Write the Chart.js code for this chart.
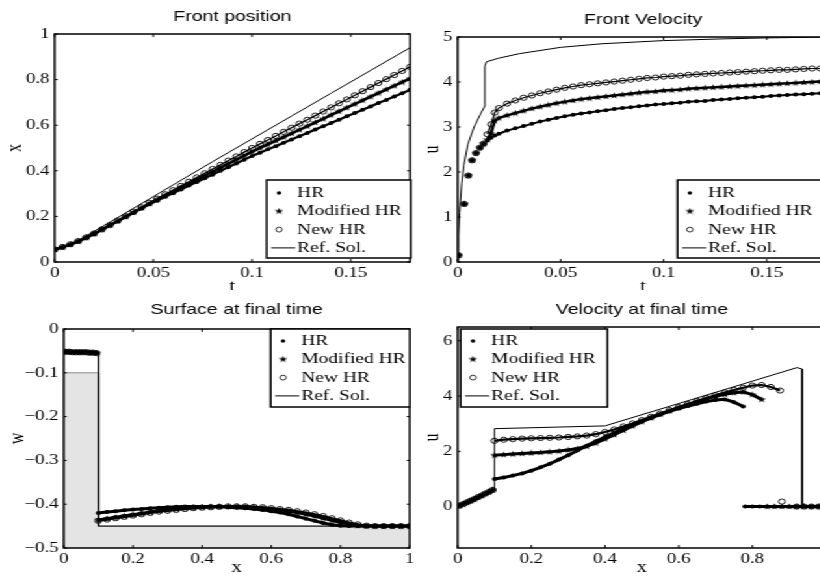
<!DOCTYPE html>
<html>
<head>
<meta charset="utf-8">
<title>Front position and velocity</title>
<script src="https://cdn.jsdelivr.net/npm/chart.js@4.4.1/dist/chart.umd.min.js"></script>
<style>
  html, body { margin: 0; padding: 0; background: #fff; width: 820px; height: 579px; overflow: hidden; }
  /* the figure is drawn narrow and stretched 1.3x horizontally, like the original */
  #fig { position: absolute; left: 0; top: 0; width: 631px; height: 579px; transform: scaleX(1.3); transform-origin: 0 0; }
  #top { position: absolute; left: 0; top: 0; width: 700px; height: 290px; overflow: hidden; }
  canvas { position: absolute; }
</style>
</head>
<body>
<div id="fig">
  <div id="top">
    <canvas id="c1"></canvas>
    <canvas id="c2"></canvas>
  </div>
  <canvas id="c3"></canvas>
  <canvas id="c4"></canvas>
</div>
<script>
// Front position (x vs t)
const t1 = [0, 0.004, 0.008, 0.012, 0.016, 0.02, 0.024, 0.028, 0.032, 0.036, 0.04, 0.044, 0.048, 0.052, 0.056, 0.06,
  0.064, 0.068, 0.072, 0.076, 0.08, 0.084, 0.088, 0.092, 0.096, 0.1, 0.104, 0.108, 0.112, 0.116, 0.12, 0.124, 0.128,
  0.132, 0.136, 0.14, 0.144, 0.148, 0.152, 0.156, 0.16, 0.164, 0.168, 0.172, 0.176, 0.18];
const hr1 = [0.055, 0.065, 0.077, 0.091, 0.107, 0.124, 0.142, 0.161, 0.179, 0.198, 0.216, 0.235, 0.253, 0.269, 0.286,
  0.302, 0.318, 0.335, 0.351, 0.367, 0.383, 0.400, 0.416, 0.432, 0.449, 0.465, 0.479, 0.494, 0.508, 0.523, 0.537, 0.552,
  0.566, 0.581, 0.595, 0.610, 0.624, 0.639, 0.653, 0.668, 0.682, 0.697, 0.711, 0.726, 0.740, 0.755];
const mod1 = [0.055, 0.065, 0.077, 0.091, 0.107, 0.124, 0.142, 0.161, 0.180, 0.199, 0.218, 0.237, 0.256, 0.274, 0.291,
  0.309, 0.326, 0.344, 0.361, 0.379, 0.396, 0.414, 0.431, 0.449, 0.466, 0.484, 0.500, 0.516, 0.532, 0.548, 0.564, 0.580,
  0.596, 0.612, 0.628, 0.645, 0.661, 0.677, 0.693, 0.709, 0.725, 0.741, 0.757, 0.773, 0.789, 0.805];
const new1 = [0.055, 0.066, 0.078, 0.092, 0.108, 0.125, 0.143, 0.162, 0.182, 0.201, 0.221, 0.240, 0.260, 0.278, 0.297,
  0.315, 0.334, 0.352, 0.371, 0.389, 0.408, 0.426, 0.445, 0.463, 0.482, 0.500, 0.518, 0.535, 0.553, 0.571, 0.589, 0.607,
  0.624, 0.642, 0.660, 0.678, 0.696, 0.713, 0.731, 0.749, 0.767, 0.785, 0.802, 0.820, 0.838, 0.856];
const refT1 = [0, 0.004, 0.008, 0.012, 0.014, 0.02, 0.03, 0.04, 0.06, 0.08, 0.1, 0.12, 0.14, 0.16, 0.18];
const refX1 = [0.055, 0.064, 0.078, 0.094, 0.104, 0.135, 0.185, 0.236, 0.338, 0.44, 0.54, 0.64, 0.74, 0.84, 0.94];

// Front velocity (u vs t)
const t2 = [0.0005, 0.0032, 0.0052, 0.007, 0.0089, 0.0108, 0.0126, 0.0144, 0.0162, 0.018,
  0.02, 0.024, 0.028, 0.032, 0.036, 0.04, 0.044, 0.048, 0.052, 0.056, 0.06, 0.064, 0.068, 0.072, 0.076, 0.08, 0.084,
  0.088, 0.092, 0.096, 0.1, 0.104, 0.108, 0.112, 0.116, 0.12, 0.124, 0.128, 0.132, 0.136, 0.14, 0.144, 0.148, 0.152,
  0.156, 0.16, 0.164, 0.168, 0.172, 0.176, 0.18];
const hr2 = [0.15, 1.29, 1.92, 2.26, 2.42, 2.54, 2.63, 2.70, 2.76, 2.81,
  2.85, 2.92, 2.97, 3.02, 3.07, 3.12, 3.16, 3.20, 3.24, 3.27, 3.30, 3.32, 3.35, 3.37, 3.40, 3.42, 3.44, 3.46, 3.48,
  3.50, 3.51, 3.53, 3.54, 3.56, 3.57, 3.58, 3.60, 3.61, 3.62, 3.64, 3.65, 3.66, 3.67, 3.69, 3.70, 3.71, 3.72, 3.73,
  3.74, 3.75, 3.76];
const mod2 = [0.15, 1.29, 1.92, 2.26, 2.42, 2.54, 2.63, 2.72, 2.86, 3.14,
  3.20, 3.26, 3.31, 3.36, 3.41, 3.45, 3.49, 3.53, 3.56, 3.59, 3.62, 3.64, 3.66, 3.68, 3.70, 3.72, 3.74, 3.76, 3.78,
  3.79, 3.81, 3.82, 3.83, 3.85, 3.86, 3.87, 3.88, 3.89, 3.90, 3.91, 3.92, 3.93, 3.94, 3.95, 3.96, 3.97, 3.98, 3.99,
  4.00, 4.01, 4.02];
const new2 = [0.15, 1.29, 1.92, 2.26, 2.42, 2.54, 2.63, 2.84, 3.06, 3.32,
  3.42, 3.52, 3.59, 3.65, 3.70, 3.75, 3.79, 3.83, 3.87, 3.90, 3.93, 3.95, 3.97, 3.99, 4.01, 4.03, 4.05, 4.07, 4.09,
  4.10, 4.12, 4.13, 4.14, 4.16, 4.17, 4.18, 4.19, 4.20, 4.21, 4.22, 4.23, 4.24, 4.25, 4.26, 4.27, 4.27, 4.28, 4.29,
  4.30, 4.30, 4.31];
const refT2 = [0, 0.0005, 0.001, 0.002, 0.003, 0.005, 0.008, 0.011, 0.013, 0.0132, 0.014, 0.02, 0.03, 0.05, 0.07,
  0.1, 0.13, 0.15, 0.18];
const refU2 = [0, 0.6, 1.1, 1.75, 2.15, 2.62, 3.0, 3.28, 3.45, 4.35, 4.45, 4.53, 4.63, 4.77, 4.85, 4.92, 4.96, 4.98, 5.0];

// final time profiles: cells left of the step and the grid right of it
const xl = [0.005, 0.015, 0.025, 0.035, 0.045, 0.055, 0.065, 0.075, 0.085, 0.095];
const xr = [0.1, 0.125, 0.15, 0.175, 0.2, 0.225, 0.25, 0.275, 0.3, 0.325, 0.35, 0.375, 0.4, 0.425, 0.45, 0.475, 0.5,
  0.525, 0.55, 0.575, 0.6, 0.625, 0.65, 0.675, 0.7, 0.725, 0.75, 0.775, 0.8, 0.825, 0.85, 0.875, 0.9, 0.925, 0.95,
  0.975, 1];

// Surface at final time (w vs x)
const wLeft = [-0.052, -0.052, -0.053, -0.053, -0.053, -0.053, -0.053, -0.054, -0.054, -0.055];
const hr3 = [-0.420, -0.418, -0.416, -0.414, -0.412, -0.411, -0.409, -0.408, -0.407, -0.406, -0.405, -0.405, -0.405,
  -0.405, -0.406, -0.407, -0.408, -0.409, -0.411, -0.413, -0.416, -0.419, -0.423, -0.428, -0.433, -0.438, -0.443,
  -0.447, -0.449, -0.45, -0.45, -0.45, -0.45, -0.45, -0.45, -0.45, -0.45];
const mod3 = [-0.436, -0.433, -0.430, -0.427, -0.424, -0.421, -0.418, -0.415, -0.413, -0.411, -0.409, -0.408, -0.407,
  -0.406, -0.405, -0.405, -0.405, -0.406, -0.407, -0.409, -0.411, -0.413, -0.416, -0.419, -0.423, -0.427, -0.432,
  -0.437, -0.442, -0.446, -0.449, -0.45, -0.45, -0.45, -0.45, -0.45, -0.45];
const new3 = [-0.438, -0.435, -0.432, -0.429, -0.426, -0.423, -0.420, -0.417, -0.415, -0.413, -0.411, -0.409, -0.408,
  -0.407, -0.406, -0.405, -0.405, -0.405, -0.406, -0.407, -0.409, -0.411, -0.413, -0.416, -0.419, -0.423, -0.427,
  -0.432, -0.437, -0.442, -0.446, -0.449, -0.45, -0.45, -0.45, -0.45, -0.45];
const bedX = [0, 0.1, 0.1, 1];
const bedW = [-0.1, -0.1, -0.45, -0.45];
const refX3 = [0, 0.1, 0.1, 1];
const refW3 = [-0.055, -0.055, -0.45, -0.45];

// Velocity at final time (u vs x)
const uLeft = [0.03, 0.09, 0.15, 0.21, 0.27, 0.34, 0.40, 0.47, 0.53, 0.60];
const hr4 = [1.0, 1.05, 1.12, 1.2, 1.3, 1.42, 1.55, 1.7, 1.86, 2.03, 2.2, 2.36, 2.52, 2.67, 2.82, 2.96, 3.09, 3.22,
  3.34, 3.45, 3.55, 3.64, 3.72, 3.8, 3.86, 3.88, 3.78, 3.62];
const mod4 = [1.86, 1.88, 1.9, 1.92, 1.94, 1.96, 1.98, 2.01, 2.05, 2.1, 2.18, 2.3, 2.45, 2.6, 2.76, 2.92, 3.07, 3.21,
  3.34, 3.46, 3.58, 3.69, 3.8, 3.9, 3.99, 4.06, 4.12, 4.15, 4.05, 3.88];
const new4 = [2.38, 2.42, 2.44, 2.46, 2.47, 2.48, 2.49, 2.5, 2.52, 2.54, 2.57, 2.62, 2.7, 2.79, 2.9, 3.01, 3.13, 3.25,
  3.37, 3.49, 3.6, 3.71, 3.82, 3.93, 4.03, 4.13, 4.22, 4.3, 4.38, 4.4, 4.33, 4.2];
const xDry = [0.78, 0.8, 0.82, 0.84, 0.86, 0.88, 0.9, 0.92, 0.94, 0.96, 0.98, 1];
const hrDry = [0, 0, 0, 0, 0, 0, 0, 0, 0, 0, 0, 0];
const modDry = [null, null, null, 0, 0, 0, 0, 0, 0, 0, 0, 0];
const newDry = [null, null, null, null, null, 0.18, null, 0, 0, 0, 0, 0];
const refX4 = [0, 0.1, 0.1, 0.4, 0.921, 0.935, 0.935, 1];
const refU4 = [0, 0.62, 2.82, 2.92, 5.03, 4.98, 0, 0];

// tick labels
const tTicks = [0, 0.05, 0.1, 0.15];
const xTicks = [0, 0.2, 0.4, 0.6, 0.8, 1];
const posTicks = [0, 0.2, 0.4, 0.6, 0.8, 1];
const velTicks = [0, 1, 2, 3, 4, 5];
const surfTicks = [-0.5, -0.4, -0.3, -0.2, -0.1, 0];
const uTicks = [0, 2, 4, 6];

const SERIF = '"Liberation Serif", "Times New Roman", serif';
const SANS = '"Liberation Sans", Arial, sans-serif';
const LABELS = ['HR', 'Modified HR', 'New HR', 'Ref. Sol.'];

const xy = (xs, ys) => ys.map((y, i) => ({x: xs[i], y}));
const gap = x => ({x, y: null});
const fmt = v => String(+Number(v).toFixed(3)).replace('-', '\u2212');

// small filled pentagram used as the "Modified HR" marker
const starImg = (() => {
  const c = document.createElement('canvas');
  c.width = 7; c.height = 7;
  const g = c.getContext('2d');
  g.fillStyle = '#000';
  g.beginPath();
  for (let i = 0; i < 10; i++) {
    const r = i % 2 ? 1.4 : 3.5;
    const a = -Math.PI / 2 + i * Math.PI / 5;
    g.lineTo(3.5 + r * Math.cos(a), 3.7 + r * Math.sin(a));
  }
  g.closePath();
  g.fill();
  return c;
})();

const marks = {
  dot: {pointStyle: 'circle', pointRadius: 2, pointBackgroundColor: '#000', pointBorderColor: '#000', pointBorderWidth: 0},
  star: {pointStyle: starImg, pointRadius: 3},
  ring: {pointStyle: 'circle', pointRadius: 2.6, pointBackgroundColor: 'rgba(0,0,0,0)', pointBorderColor: '#000', pointBorderWidth: 0.9}
};

function series(i, kind, data, lw, order, extra) {
  return Object.assign({label: LABELS[i], kind, data, showLine: true, borderColor: '#000', borderWidth: lw, order},
    marks[kind], extra || {});
}
function refLine(data) {
  return {label: LABELS[3], kind: 'line', data, showLine: true, borderColor: '#000', borderWidth: 1, pointRadius: 0, order: 1};
}

// box, inward ticks, title and legend in the MATLAB manner
const frame = {
  id: 'frame',
  afterDraw(chart, args, o) {
    const {ctx, chartArea: a, scales: {x, y}} = chart;
    ctx.save();
    ctx.strokeStyle = '#000';
    ctx.lineWidth = 1.5;
    ctx.strokeRect(a.left, a.top, a.right - a.left, a.bottom - a.top);
    ctx.lineWidth = 1;
    ctx.beginPath();
    x.ticks.forEach(t => {
      const p = x.getPixelForValue(t.value);
      ctx.moveTo(p, a.bottom); ctx.lineTo(p, a.bottom - 3);
      ctx.moveTo(p, a.top); ctx.lineTo(p, a.top + 3);
    });
    y.ticks.forEach(t => {
      const p = y.getPixelForValue(t.value);
      ctx.moveTo(a.left, p); ctx.lineTo(a.left + 2.3, p);
      ctx.moveTo(a.right, p); ctx.lineTo(a.right - 2.3, p);
    });
    ctx.stroke();

    ctx.fillStyle = '#000';
    ctx.font = '15px ' + SANS;
    ctx.textAlign = 'center';
    ctx.textBaseline = 'middle';
    ctx.fillText(o.title, (a.left + a.right) / 2, a.top - o.titleGap);

    const b = o.legend;
    const bx = a.left + b.dx, by = a.top + b.dy;
    ctx.fillStyle = '#fff';
    ctx.fillRect(bx, by, b.w, b.h);
    ctx.lineWidth = 1.5;
    ctx.strokeRect(bx, by, b.w, b.h);
    ctx.font = '15px ' + SERIF;
    ctx.textAlign = 'left';
    chart.data.datasets.filter(d => d.kind).forEach((d, i) => {
      const cy = by + b.first + i * 18.3;
      const mx = bx + 9.5;
      ctx.fillStyle = '#000';
      if (d.kind === 'dot') {
        ctx.beginPath(); ctx.arc(mx, cy, 1.7, 0, 2 * Math.PI); ctx.fill();
      } else if (d.kind === 'star') {
        ctx.drawImage(starImg, mx - 3.5, cy - 3.7);
      } else if (d.kind === 'ring') {
        ctx.lineWidth = 0.8; ctx.beginPath(); ctx.arc(mx, cy, 2.4, 0, 2 * Math.PI); ctx.stroke();
      } else {
        ctx.lineWidth = 1; ctx.beginPath(); ctx.moveTo(bx + 3.5, cy); ctx.lineTo(bx + 22, cy); ctx.stroke();
      }
      ctx.fillText(d.label, bx + 23.5, cy);
    });
    ctx.restore();
  }
};

function axis(ticks, min, max, label, size, tickPad, titlePad) {
  return {
    type: 'linear', min, max,
    afterBuildTicks: s => { s.ticks = ticks.map(v => ({value: v})); },
    afterFit: s => { if (s.isHorizontal()) s.height = size; else s.width = size; },
    grid: {display: false, drawTicks: false},
    border: {display: false},
    ticks: {color: '#000', padding: tickPad, autoSkip: false, maxRotation: 0,
      font: {family: SERIF, size: 14.5}, callback: fmt},
    title: {display: true, text: label, color: '#000', font: {family: SERIF, size: 16}, padding: titlePad}
  };
}

function panel(id, g, datasets, xAxis, yAxis, title, titleGap, legend) {
  const cv = document.getElementById(id);
  const pw = g.R - g.L, ph = g.B - g.T;
  const W = Math.ceil(g.yw + pw + g.pr);
  cv.width = W;
  cv.height = g.th + ph + g.xh;
  cv.style.left = (g.L - g.yw) + 'px';
  cv.style.top = (g.T - g.th) + 'px';
  return new Chart(cv, {
    type: 'scatter',
    data: {datasets},
    options: {
      responsive: false, animation: false, events: [],
      layout: {padding: {left: 0, top: g.th, bottom: 0, right: W - g.yw - pw}},
      scales: {x: xAxis, y: yAxis},
      plugins: {
        legend: {display: false}, tooltip: {enabled: false},
        frame: {title, titleGap, legend}
      }
    },
    plugins: [frame]
  });
}

// top left: front position
panel('c1', {L: 42.3, R: 316.2, T: 34, B: 262, yw: 40, th: 34, xh: 36, pr: 6}, [
  series(0, 'dot', xy(t1, hr1), 2.2, 4),
  series(1, 'star', xy(t1, mod1), 2.6, 3),
  series(2, 'ring', xy(t1, new1), 1.3, 2),
  refLine(xy(refT1, refX1))
], axis(tTicks, 0, 0.18, 't', 36, 2.5, {top: 0, bottom: 1.7}),
   axis(posTicks, 0, 1, 'x', 40, 4, {top: 0.4, bottom: 0}),
   'Front position', 17, {dx: 163.1, dy: 146, w: 110.8, h: 78, first: 13});

// top right: front velocity (no line between the first sparse outputs)
const sparse = {segment: {borderColor: c => (c.p0.parsed.x < 0.0143 ? 'rgba(0,0,0,0)' : undefined)}};
panel('c2', {L: 351.5, R: 636.9, T: 37, B: 262, yw: 40, th: 37, xh: 36, pr: 6}, [
  series(0, 'dot', xy(t2, hr2), 2, 4, sparse),
  series(1, 'star', xy(t2, mod2), 2.4, 3, sparse),
  series(2, 'ring', xy(t2, new2), 1.2, 2, sparse),
  refLine(xy(refT2, refU2))
], axis(tTicks, 0, 0.18, 't', 36, 2.5, {top: 0, bottom: 1.7}),
   axis(velTicks, 0, 5, 'u', 40, 4, {top: 11.2, bottom: 0}),
   'Front Velocity', 17, {dx: 169.2, dy: 143, w: 130, h: 78, first: 13});

// bottom left: surface at final time, bed shaded
panel('c3', {L: 48.5, R: 314.6, T: 329, B: 548, yw: 46, th: 39, xh: 31, pr: 8}, [
  series(0, 'dot', [...xy(xl, wLeft), gap(0.1), ...xy(xr, hr3)], 3, 4),
  series(1, 'star', [...xy(xl, wLeft), gap(0.1), ...xy(xr, mod3)], 3, 3),
  series(2, 'ring', [...xy(xl, wLeft), gap(0.1), ...xy(xr, new3)], 2.2, 2),
  refLine(xy(refX3, refW3)),
  {data: xy(bedX, bedW), showLine: true, fill: 'start', backgroundColor: '#e4e4e4',
    borderColor: '#8a8a8a', borderWidth: 1, pointRadius: 0, order: 10}
], axis(xTicks, 0, 1, 'x', 31, 2.5, {top: 0, bottom: 1.4}),
   axis(surfTicks, -0.5, 0, 'w', 46, 4, {top: 1.4, bottom: 0}),
   'Surface at final time', 19.5, {dx: 159.2, dy: 0, w: 107, h: 78, first: 12});

// bottom right: velocity at final time
panel('c4', {L: 351.5, R: 635, T: 327, B: 548, yw: 40, th: 37, xh: 31, pr: 8}, [
  series(0, 'dot', [...xy(xl, uLeft), gap(0.1), ...xy(xr, hr4), gap(0.78), ...xy(xDry, hrDry)], 3, 4),
  series(1, 'star', [...xy(xl, uLeft), gap(0.1), ...xy(xr, mod4), gap(0.78), ...xy(xDry, modDry)], 3, 3),
  series(2, 'ring', [...xy(xl, uLeft), gap(0.1), ...xy(xr, new4), gap(0.78), ...xy(xDry, newDry)], 2.2, 2),
  refLine(xy(refX4, refU4))
], axis(xTicks, 0, 1, 'x', 31, 2.5, {top: 0, bottom: 1.4}),
   axis(uTicks, -1.5, 6.5, 'u', 40, 4, {top: 11.2, bottom: 0}),
   'Velocity at final time', 17.5, {dx: 2.3, dy: 2, w: 113, h: 78, first: 12});
</script>
</body>
</html>
